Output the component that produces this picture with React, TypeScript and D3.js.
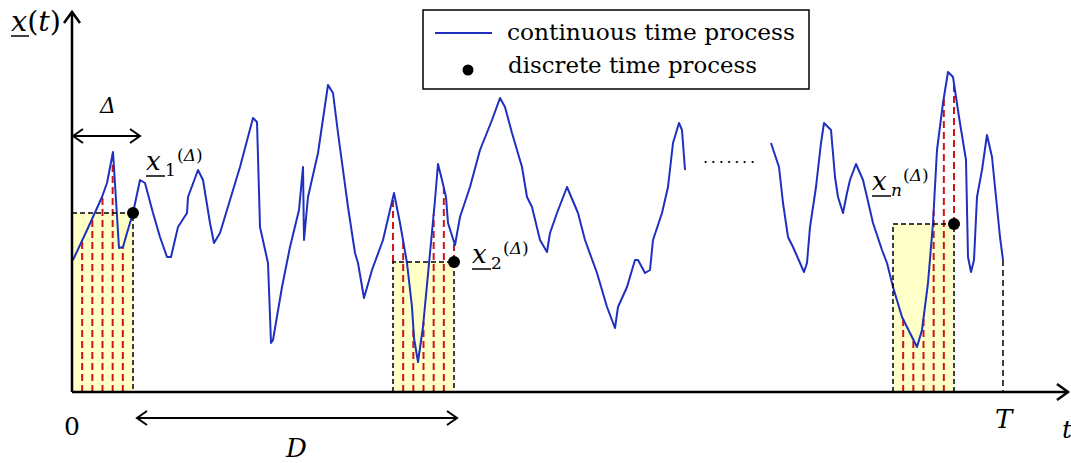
import * as d3 from "d3";

// chart size
const W = 1071;
const H = 463;

// time axis: 0 .. T, value axis: 0 .. 380
const T_END = 931;
const T_ARROW = 996;
const V_MAX = 380;
const DELTA = 61;
const SUBSTEPS = 6;

// continuous process, first stretch
const seg1T = [
  1, 16, 30, 35, 41, 47, 51, 55, 61, 68, 73, 81, 88, 95, 99, 106, 115, 116, 126, 131,
  138, 142, 148, 158, 168, 181, 185, 188, 196, 199, 201, 210, 218, 227, 231, 232, 236,
  246, 256, 261, 266, 276, 283, 286, 292, 300, 311, 322, 328, 335, 340, 342, 346, 351,
  358, 363, 366, 370, 374, 376, 383, 388, 398, 408, 420, 428, 433, 440, 450, 455, 460,
  468, 475, 478, 485, 495, 506, 513, 525, 535, 543, 546, 555, 563, 566, 573, 578, 581,
  590, 596, 601, 607, 610, 613,
];
const seg1X = [
  132, 164, 195, 209, 240, 144, 145, 159, 179, 212, 209, 179, 155, 135, 135, 165, 179,
  195, 222, 212, 169, 149, 159, 192, 225, 274, 270, 165, 129, 49, 52, 105, 145, 182,
  225, 152, 195, 239, 307, 299, 259, 185, 139, 129, 94, 122, 152, 199, 169, 129, 85, 54,
  30, 65, 139, 192, 228, 212, 195, 169, 147, 175, 205, 242, 272, 294, 285, 259, 225, 195,
  185, 152, 140, 159, 179, 205, 179, 152, 119, 85, 64, 85, 105, 132, 132, 119, 122, 152,
  179, 205, 249, 269, 262, 222,
];

// continuous process, last stretch
const seg2T = [
  699, 707, 711, 716, 721, 732, 735, 738, 744, 749, 752, 759, 763, 766, 771, 775, 778,
  784, 791, 795, 801, 810, 815, 821, 830, 838, 845, 850, 856, 861, 865, 871, 876, 881,
  887, 894, 896, 899, 902, 905, 910, 915, 920, 925, 928, 931,
];
const seg2X = [
  249, 225, 189, 155, 145, 120, 129, 165, 205, 249, 269, 262, 215, 195, 179, 199, 212,
  228, 212, 195, 169, 142, 129, 105, 75, 59, 45, 62, 109, 169, 242, 289, 320, 315, 275,
  232, 135, 120, 132, 195, 222, 257, 235, 185, 155, 132,
];

// sampling windows and discrete values
const windowStart = [0, 321, 821];
const discreteX = [179, 130, 168];
const discreteSub = ["1", "2", "n"];

const BLUE = "#1f30c0";
const RED = "#d01515";
const FILL = "#ffffc8";
const FONT = "'DejaVu Serif', 'Liberation Serif', serif";

const x = d3.scaleLinear().domain([0, T_END]).range([72, 1003]);
const y = d3.scaleLinear().domain([0, V_MAX]).range([392, 12]);

const segments = [
  seg1T.map((t, i) => [t, seg1X[i]] as [number, number]),
  seg2T.map((t, i) => [t, seg2X[i]] as [number, number]),
];

// value of the continuous curve at time t (linear between read points)
function curveAt(t: number): number | null {
  for (const seg of segments) {
    if (t < seg[0][0] - 1 || t > seg[seg.length - 1][0]) continue;
    const i = d3.bisector((d: [number, number]) => d[0]).left(seg, t);
    if (i <= 0) return seg[0][1];
    const a = seg[i - 1];
    const b = seg[Math.min(i, seg.length - 1)];
    if (b[0] === a[0]) return a[1];
    return a[1] + ((b[1] - a[1]) * (t - a[0])) / (b[0] - a[0]);
  }
  return null;
}

const line = d3
  .line<[number, number]>()
  .x((d) => x(d[0]))
  .y((d) => y(d[1]));

function chevron(tipX: number, tipY: number, dir: "l" | "r" | "u", len = 11, half = 8) {
  if (dir === "r") return `M${tipX - len},${tipY - half}L${tipX},${tipY}L${tipX - len},${tipY + half}`;
  if (dir === "l") return `M${tipX + len},${tipY - half}L${tipX},${tipY}L${tipX + len},${tipY + half}`;
  return `M${tipX - half},${tipY + len}L${tipX},${tipY}L${tipX + half},${tipY + len}`;
}

function SampleLabel({ px, py, sub }: { px: number; py: number; sub: string }) {
  return (
    <g fontFamily={FONT}>
      <text x={px} y={py} fontSize={26} fontStyle="italic">x</text>
      <line x1={px} x2={px + 19} y1={py + 6} y2={py + 6} stroke="#000" strokeWidth={1.5} />
      <text x={px + 19} y={py + 6} fontSize={17} fontStyle={sub === "n" ? "italic" : "normal"}>{sub}</text>
      <text x={px + 31} y={py - 9} fontSize={17}>
        (<tspan fontStyle="italic">Δ</tspan>)
      </text>
    </g>
  );
}

export default function App() {
  const y0 = y(0);
  const labelPos = [
    [146, 170],
    [472, 263],
    [872, 190],
  ];

  return (
    <div style={{ position: "absolute", left: 0, top: 0 }}>
      <svg width={W} height={H} style={{ display: "block", background: "#fff" }}>
        {/* sampling windows: fill */}
        {windowStart.map((s, i) => (
          <rect
            key={"f" + i}
            x={x(s)}
            y={y(discreteX[i])}
            width={x(s + DELTA) - x(s)}
            height={y0 - y(discreteX[i])}
            fill={FILL}
          />
        ))}

        {/* red sample lines */}
        {windowStart.map((s, i) =>
          d3.range(SUBSTEPS + 1).map((k) => {
            const t = s + (DELTA * k) / SUBSTEPS;
            const v = curveAt(t);
            if (v === null) return null;
            const edge = k === 0 || k === SUBSTEPS;
            if (edge && v <= discreteX[i]) return null;
            return (
              <line
                key={`r${i}-${k}`}
                x1={x(t)}
                x2={x(t)}
                y1={edge ? y(discreteX[i]) : y0}
                y2={y(v)}
                stroke={RED}
                strokeWidth={2}
                strokeDasharray="7,4"
              />
            );
          })
        )}

        {/* continuous process */}
        {segments.map((seg, i) => (
          <path key={"c" + i} d={line(seg) ?? ""} fill="none" stroke={BLUE} strokeWidth={2} strokeLinejoin="round" />
        ))}

        {/* window outlines */}
        {windowStart.map((s, i) => {
          const x1 = x(s);
          const x2 = x(s + DELTA);
          const top = y(discreteX[i]);
          const d = i === 0 ? `M${x1},${top}H${x2}V${y0}` : `M${x1},${y0}V${top}H${x2}V${y0}`;
          return <path key={"o" + i} d={d} fill="none" stroke="#000" strokeWidth={1.5} strokeDasharray="5,3" />;
        })}

        {/* T marker */}
        <line
          x1={x(T_END)}
          x2={x(T_END)}
          y1={y(curveAt(T_END) ?? 0)}
          y2={y0}
          stroke="#000"
          strokeWidth={1.5}
          strokeDasharray="6,4"
        />

        {/* discrete samples */}
        {windowStart.map((s, i) => (
          <circle key={"d" + i} cx={x(s + DELTA)} cy={y(discreteX[i])} r={6} fill="#000" />
        ))}

        {/* axes */}
        <g stroke="#000" strokeWidth={2.5} fill="none">
          <line x1={x(0)} x2={x(0)} y1={y0} y2={y(V_MAX)} />
          <path d={chevron(x(0), y(V_MAX), "u")} />
          <line x1={x(0)} x2={x(T_ARROW)} y1={y0} y2={y0} />
          <path d={chevron(x(T_ARROW), y0, "r")} />
        </g>

        {/* Δ and D arrows */}
        <g stroke="#000" strokeWidth={2} fill="none">
          <line x1={x(0)} x2={x(DELTA + 7)} y1={136} y2={136} />
          <path d={chevron(x(0) + 1, 136, "l", 10, 7)} />
          <path d={chevron(x(DELTA + 7), 136, "r", 10, 7)} />
          <line x1={x(DELTA + 4)} x2={x(windowStart[1] + DELTA + 3)} y1={418} y2={418} />
          <path d={chevron(x(DELTA + 4), 418, "l", 10, 7)} />
          <path d={chevron(x(windowStart[1] + DELTA + 3), 418, "r", 10, 7)} />
        </g>

        {/* text */}
        <g fontFamily={FONT} fill="#000">
          <text x={11} y={31} fontSize={27} textLength={50} lengthAdjust="spacingAndGlyphs">
            <tspan fontStyle="italic">x</tspan>(<tspan fontStyle="italic">t</tspan>)
          </text>
          <line x1={11} x2={29} y1={36} y2={36} stroke="#000" strokeWidth={1.5} />
          <text x={100} y={113} fontSize={22} fontStyle="italic">Δ</text>
          <text x={64} y={435} fontSize={25}>0</text>
          <text x={286} y={457} fontSize={26} fontStyle="italic">D</text>
          <text x={995} y={428} fontSize={26} fontStyle="italic">T</text>
          <text x={1062} y={438} fontSize={25} fontStyle="italic">t</text>
          <text x={703} y={163} fontSize={16} textLength={52} lengthAdjust="spacing">.......</text>
        </g>

        {labelPos.map(([px, py], i) => (
          <SampleLabel key={"l" + i} px={px} py={py} sub={discreteSub[i]} />
        ))}

        {/* legend */}
        <rect x={423} y={10} width={386} height={79} fill="#fff" stroke="#000" strokeWidth={1.5} />
        <line x1={435} x2={492} y1={33} y2={33} stroke={BLUE} strokeWidth={2} />
        <circle cx={468} cy={70} r={5.5} fill="#000" />
        <text x={507} y={40} fontFamily={FONT} fontSize={22} textLength={288} lengthAdjust="spacingAndGlyphs">
          continuous time process
        </text>
        <text x={508} y={73} fontFamily={FONT} fontSize={22} textLength={249} lengthAdjust="spacingAndGlyphs">
          discrete time process
        </text>
      </svg>
    </div>
  );
}
